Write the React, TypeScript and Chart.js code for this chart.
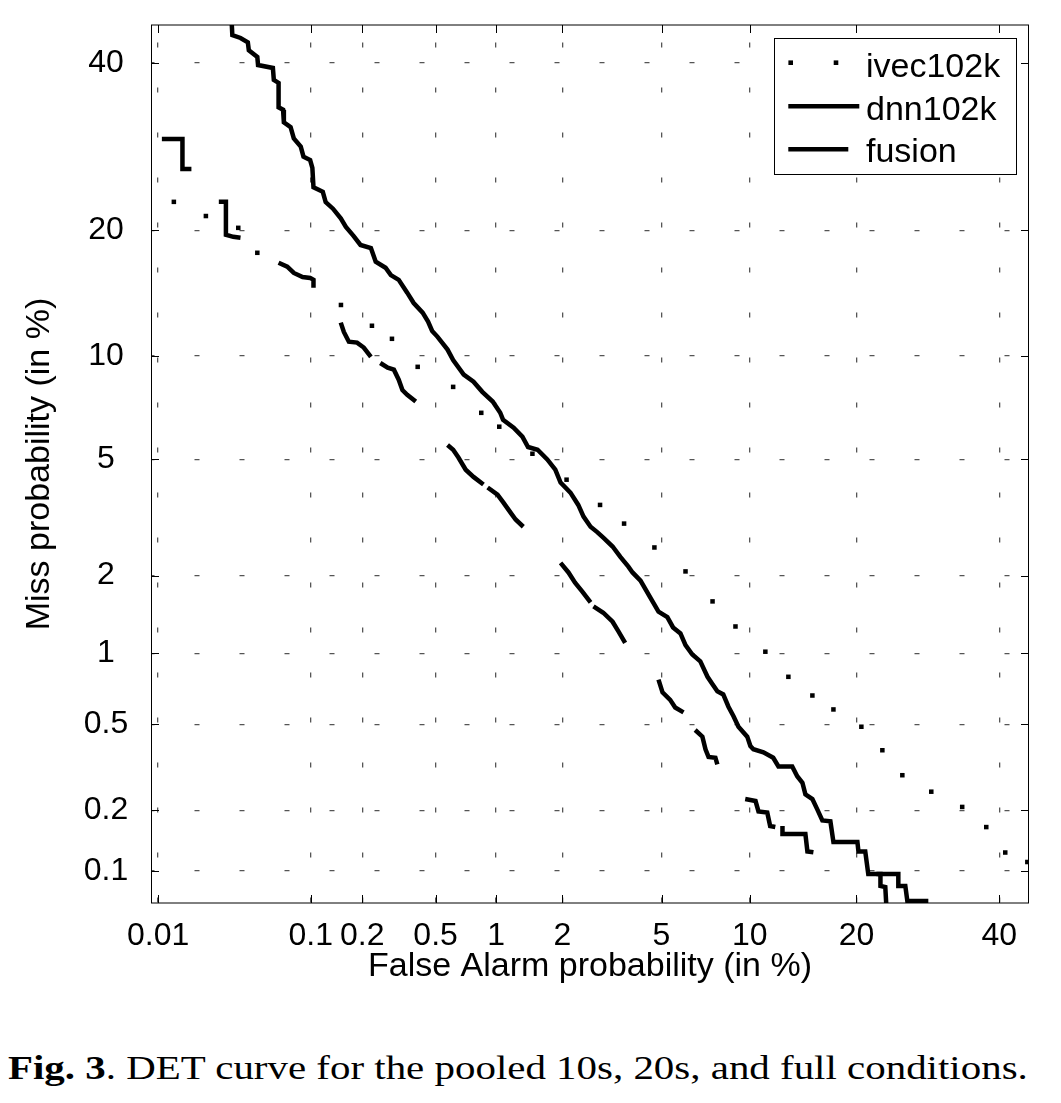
import React, { useEffect, useRef } from 'react';
import { Chart, registerables } from 'chart.js';

Chart.register(...registerables);

// ---- axis ticks (percent) ----
const xTickValues = [0.01, 0.1, 0.2, 0.5, 1, 2, 5, 10, 20, 40];
const xTickLabels = ['0.01', '0.1', '0.2', '0.5', '1', '2', '5', '10', '20', '40'];
const yTickValues = [0.1, 0.2, 0.5, 1, 2, 5, 10, 20, 40];
const yTickLabels = ['0.1', '0.2', '0.5', '1', '2', '5', '10', '20', '40'];
const xRange = [0.0089, 44.8];
const yRange = [0.068, 45.2];

// ---- series: ivec102k (dotted) ----
const ivecFA = [0.0129, 0.0214, 0.0351, 0.0466, 0.151, 0.227, 0.293, 0.403, 0.615, 0.848, 1.035, 1.475, 2.087, 2.884, 3.6, 4.705, 6.105, 7.57, 9.01, 11.18, 13.09, 15.31, 17.45, 20.57, 23.12, 25.7, 29.69, 34.24, 37.95, 40.96, 44.53];
const ivecMiss = [22.92, 21.44, 20.25, 17.87, 13.49, 11.97, 11.08, 9.33, 8.21, 6.915, 6.29, 5.2, 4.3, 3.55, 3.067, 2.53, 2.073, 1.601, 1.28, 1.015, 0.8, 0.667, 0.581, 0.488, 0.383, 0.294, 0.246, 0.208, 0.166, 0.124, 0.111];

// ---- series: dnn102k ----
const dnnFA = [0.0317, 0.0321, 0.0363, 0.0405, 0.0411, 0.0466, 0.0471, 0.0585, 0.0593, 0.0635, 0.0635, 0.0677, 0.0685, 0.0754, 0.0789, 0.087, 0.0904, 0.0992, 0.1023, 0.1039, 0.1181, 0.1228, 0.1356, 0.1506, 0.1613, 0.1784, 0.1956, 0.224, 0.2383, 0.2702, 0.289, 0.3189, 0.3543, 0.3838, 0.428, 0.457, 0.48, 0.512, 0.576, 0.615, 0.695, 0.777, 0.858, 0.963, 1.046, 1.079, 1.209, 1.327, 1.409, 1.556, 1.719, 1.865, 1.966, 2.168, 2.341, 2.464, 2.636, 2.808, 2.973, 3.241, 3.48, 3.742, 3.884, 4.169, 4.537, 4.873, 5.253, 5.51, 5.857, 6.105, 6.452, 6.876, 7.279, 7.568, 7.856, 8.219, 8.549, 8.88, 9.211, 9.823, 10.05, 10.27, 11.03, 11.81, 12.24, 13.43, 13.88, 14.36, 14.64, 15.31, 15.78, 16.3, 17.13, 17.45, 20.11, 20.23, 21.03, 21.39, 25.17, 25.17, 26.1, 26.37, 29.27];
const dnnMiss = [46.0, 43.8, 43.4, 42.8, 41.7, 40.8, 39.7, 39.3, 37.7, 37.3, 34.1, 33.8, 32.2, 31.6, 30.2, 29.2, 28.0, 27.6, 26.7, 24.5, 24.0, 22.9, 22.2, 21.2, 20.35, 19.47, 18.6, 18.31, 17.06, 16.53, 15.9, 15.5, 14.45, 13.64, 12.91, 12.26, 11.61, 11.21, 10.38, 9.73, 8.88, 8.49, 7.95, 7.46, 6.92, 6.59, 6.25, 5.87, 5.455, 5.35, 4.99, 4.63, 4.21, 3.9, 3.55, 3.24, 2.99, 2.866, 2.74, 2.55, 2.342, 2.158, 2.055, 1.918, 1.657, 1.462, 1.393, 1.269, 1.202, 1.079, 0.989, 0.927, 0.8, 0.744, 0.695, 0.674, 0.597, 0.543, 0.488, 0.441, 0.4, 0.387, 0.375, 0.354, 0.323, 0.323, 0.291, 0.271, 0.239, 0.227, 0.203, 0.179, 0.177, 0.14, 0.14, 0.1256, 0.1256, 0.0963, 0.0963, 0.0835, 0.0835, 0.0697, 0.0697];

// ---- series: fusion (null = gap in the drawn curve) ----
const fusionFA = [
  0.01063, 0.0148, 0.0148, 0.01706, null,
  0.02613, 0.02912, 0.02912, 0.03255, 0.0363, null,
  0.0635, 0.0719, 0.0789, 0.0893, 0.0992, 0.1039, 0.1039, null,
  0.1506, 0.157, 0.1678, 0.187, 0.2041, 0.224, null,
  0.2526, 0.2777, 0.3002, 0.3189, 0.3339, 0.3544, 0.3935, null,
  0.576, 0.615, 0.6538, 0.711, 0.777, 0.869, null,
  0.9106, 1.015, 1.079, 1.17, 1.235, 1.34, null,
  1.966, 2.127, 2.269, 2.44, 2.636, null,
  2.71, 2.973, 3.241, 3.42, 3.635, null,
  4.873, 5.042, 5.379, 5.609, 6.006, null,
  6.6, 6.991, 7.164, 7.337, 7.74, 7.856, null,
  9.68, 10.43, 10.65, 11.33, 11.56, 11.98, null,
  12.58, 12.58, 14.64, 14.83, 15.41, null,
  22.38, 22.88, 22.88, 23.49, 23.62,
];
const fusionMiss = [
  30.13, 30.13, 26.57, 26.57, null,
  22.92, 22.92, 19.57, 19.37, 19.28, null,
  16.97, 16.62, 16.08, 15.74, 15.66, 15.5, 14.85, null,
  12.19, 11.54, 10.89, 10.83, 10.51, 9.925, null,
  9.557, 9.276, 9.163, 8.602, 8.046, 7.8, 7.456, null,
  5.535, 5.347, 5.06, 4.63, 4.39, 4.147, null,
  4.055, 3.843, 3.629, 3.345, 3.168, 2.991, null,
  2.227, 2.055, 1.884, 1.74, 1.587, null,
  1.532, 1.448, 1.336, 1.224, 1.101, null,
  0.779, 0.688, 0.639, 0.592, 0.564, null,
  0.472, 0.441, 0.387, 0.357, 0.354, 0.33, null,
  0.227, 0.222, 0.198, 0.1955, 0.1679, 0.166, null,
  0.1679, 0.1533, 0.1533, 0.1256, 0.1243, null,
  0.0963, 0.0963, 0.0835, 0.0825, 0.066,
];

const FONT = '"Liberation Sans", Arial, Helvetica, sans-serif';

// inverse normal CDF (Acklam) – the DET (normal deviate) warping of the axes
function probit(p: number): number {
  const a = [-39.69683028665376, 220.9460984245205, -275.9285104469687, 138.357751867269, -30.66479806614716, 2.506628277459239];
  const b = [-54.47609879822406, 161.5858368580409, -155.6989798598866, 66.80131188771972, -13.28068155288572];
  const c = [-0.007784894002430293, -0.3223964580411365, -2.400758277161838, -2.549732539343734, 4.374664141464968, 2.938163982698783];
  const d = [0.007784695709041462, 0.3224671290700398, 2.445134137142996, 3.754408661907416];
  const plow = 0.02425;
  const phigh = 1 - plow;
  if (p < plow) {
    const q = Math.sqrt(-2 * Math.log(p));
    return (((((c[0] * q + c[1]) * q + c[2]) * q + c[3]) * q + c[4]) * q + c[5]) / ((((d[0] * q + d[1]) * q + d[2]) * q + d[3]) * q + 1);
  }
  if (p <= phigh) {
    const q = p - 0.5;
    const r = q * q;
    return ((((((a[0] * r + a[1]) * r + a[2]) * r + a[3]) * r + a[4]) * r + a[5]) * q) / (((((b[0] * r + b[1]) * r + b[2]) * r + b[3]) * r + b[4]) * r + 1);
  }
  const q = Math.sqrt(-2 * Math.log(1 - p));
  return -(((((c[0] * q + c[1]) * q + c[2]) * q + c[3]) * q + c[4]) * q + c[5]) / ((((d[0] * q + d[1]) * q + d[2]) * q + d[3]) * q + 1);
}
const pz = (pct: number) => probit(pct / 100);

function toPoints(fa: (number | null)[], miss: (number | null)[]) {
  return fa.map((v, i) => {
    const m = miss[i];
    if (v === null || m === null) return { x: null, y: null };
    return { x: pz(v), y: pz(m) };
  });
}

const detPlugin = {
  id: 'detFrameLegend',
  afterDatasetsDraw(chart: any) {
    const { ctx, chartArea, scales } = chart;
    const { left, right, top, bottom } = chartArea;
    ctx.save();
    ctx.strokeStyle = '#000';
    ctx.lineWidth = 1;
    ctx.beginPath();
    ctx.moveTo(Math.round(left) + 0.5, top);
    ctx.lineTo(Math.round(left) + 0.5, bottom);
    ctx.moveTo(Math.round(right) - 0.5, top);
    ctx.lineTo(Math.round(right) - 0.5, bottom);
    ctx.moveTo(left, top);
    ctx.lineTo(right, top);
    ctx.moveTo(left, bottom);
    ctx.lineTo(right, bottom);
    ctx.stroke();
    const TL = 8;
    ctx.beginPath();
    xTickValues.forEach((v) => {
      const px = Math.round(scales.x.getPixelForValue(pz(v))) + 0.5;
      ctx.moveTo(px, bottom);
      ctx.lineTo(px, bottom - TL);
      ctx.moveTo(px, top);
      ctx.lineTo(px, top + TL);
    });
    yTickValues.forEach((v) => {
      const py = Math.round(scales.y.getPixelForValue(pz(v))) + 0.5;
      ctx.moveTo(left, py);
      ctx.lineTo(left + TL, py);
      ctx.moveTo(right, py);
      ctx.lineTo(right - TL, py);
    });
    ctx.stroke();
    ctx.restore();
  },
  afterDraw(chart: any) {
    const { ctx, chartArea } = chart;
    const ds = chart.data.datasets;
    const bx = chartArea.right - 255;
    const by = chartArea.top + 12.7;
    ctx.save();
    ctx.fillStyle = '#fff';
    ctx.fillRect(bx, by, 242.5, 136.5);
    ctx.strokeStyle = '#000';
    ctx.lineWidth = 1;
    ctx.strokeRect(Math.round(bx) + 0.5, Math.round(by) + 0.5, 242, 136);
    // ivec: dotted sample
    ctx.fillStyle = '#000';
    [16.7, 62].forEach((dx) => ctx.fillRect(bx + dx - 2.3, by + 25 - 2.3, 4.6, 4.6));
    // lines
    ctx.strokeStyle = '#000';
    ctx.lineWidth = 4.5;
    ctx.lineCap = 'butt';
    ctx.beginPath();
    ctx.moveTo(bx + 14.3, by + 68.6);
    ctx.lineTo(bx + 85.3, by + 68.6);
    ctx.moveTo(bx + 14.3, by + 111.6);
    ctx.lineTo(bx + 74.3, by + 111.6);
    ctx.stroke();
    ctx.font = `34px ${FONT}`;
    ctx.textAlign = 'left';
    ctx.textBaseline = 'alphabetic';
    ctx.fillText(ds[0].label, bx + 92, by + 39);
    ctx.fillText(ds[1].label, bx + 92, by + 82.3);
    ctx.fillText(ds[2].label, bx + 92, by + 124.6);
    ctx.restore();
  },
};

export default function App() {
  const ref = useRef<HTMLCanvasElement | null>(null);

  useEffect(() => {
    if (!ref.current) return;
    const lineStyle = {
      showLine: true,
      borderColor: '#000',
      backgroundColor: '#000',
      borderWidth: 4.5,
      pointRadius: 0,
      tension: 0,
      spanGaps: false,
      borderJoinStyle: 'miter' as const,
      borderCapStyle: 'butt' as const,
    };
    const chart = new Chart(ref.current, {
      type: 'scatter',
      data: {
        datasets: [
          {
            label: 'ivec102k',
            data: toPoints(ivecFA, ivecMiss),
            showLine: false,
            pointStyle: 'rect',
            pointRadius: 3.2,
            pointBorderWidth: 0,
            backgroundColor: '#000',
            borderColor: '#000',
          },
          { label: 'dnn102k', data: toPoints(dnnFA, dnnMiss), ...lineStyle },
          { label: 'fusion', data: toPoints(fusionFA, fusionMiss), ...lineStyle },
        ] as any,
      },
      options: {
        animation: false,
        responsive: false,
        events: [],
        layout: { padding: { left: 0, top: 17, right: 24, bottom: 0 } },
        plugins: { legend: { display: false }, tooltip: { enabled: false } },
        scales: {
          x: {
            type: 'linear',
            min: pz(xRange[0]),
            max: pz(xRange[1]),
            afterBuildTicks: (s: any) => {
              s.ticks = xTickValues.map((v) => ({ value: pz(v) }));
            },
            afterFit: (s: any) => {
              s.height = 105;
              s.paddingLeft = 0;
              s.paddingRight = 0;
              s.paddingTop = 0;
              s.paddingBottom = 0;
            },
            ticks: {
              autoSkip: false,
              maxRotation: 0,
              minRotation: 0,
              padding: 14,
              color: '#000',
              font: { family: FONT, size: 32 },
              callback: (_v: any, i: number) => xTickLabels[i],
            },
            grid: { color: '#555', lineWidth: 1.3, drawTicks: false },
            border: { display: false, dash: [5, 40], dashOffset: 27.5 },
            title: {
              display: true,
              text: 'False Alarm probability (in %)',
              color: '#000',
              font: { family: FONT, size: 34 },
              padding: { top: 0, bottom: 21 },
            },
          },
          y: {
            type: 'linear',
            min: pz(yRange[0]),
            max: pz(yRange[1]),
            afterBuildTicks: (s: any) => {
              s.ticks = yTickValues.map((v) => ({ value: pz(v) }));
            },
            afterFit: (s: any) => {
              s.width = 143;
              s.paddingLeft = 0;
              s.paddingRight = 0;
              s.paddingTop = 0;
              s.paddingBottom = 0;
            },
            ticks: {
              autoSkip: false,
              padding: 22.8,
              crossAlign: 'center',
              color: '#000',
              font: { family: FONT, size: 32 },
              callback: (_v: any, i: number) => yTickLabels[i],
            },
            grid: { color: '#555', lineWidth: 1.3, drawTicks: false },
            border: { display: false, dash: [5, 40], dashOffset: 1.5 },
            title: {
              display: true,
              text: 'Miss probability (in %)',
              color: '#000',
              font: { family: FONT, size: 34 },
              padding: { top: 11, bottom: 0 },
            },
          },
        },
      } as any,
      plugins: [detPlugin],
    });
    return () => chart.destroy();
  }, []);

  return (
    <div style={{ position: 'relative', width: 1045, height: 1095 }}>
      <canvas ref={ref} width={1045} height={1000} style={{ display: 'block', width: 1045, height: 1000 }} />
      <div
        style={{
          position: 'absolute',
          left: 0,
          top: 1044,
          fontFamily: '"Liberation Serif", "Times New Roman", serif',
          fontSize: 33,
          lineHeight: 1,
          whiteSpace: 'nowrap',
          color: '#000',
          transform: 'scaleX(1.24)',
          transformOrigin: '0 0',
        }}
      >
        <b>Fig. 3</b>. DET curve for the pooled 10s, 20s, and full conditions.
      </div>
    </div>
  );
}
